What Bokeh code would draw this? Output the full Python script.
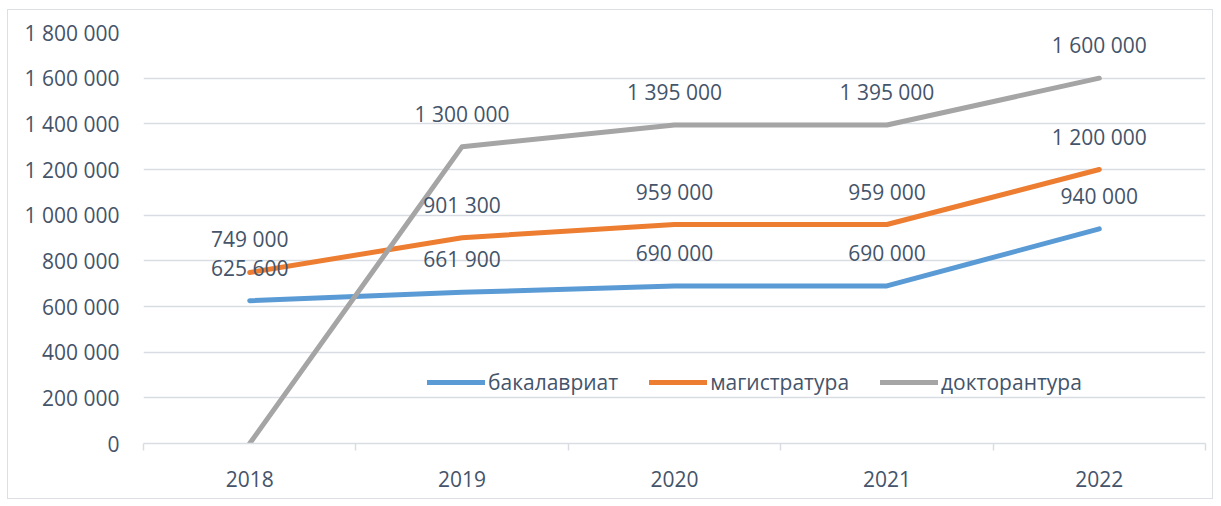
from bokeh.plotting import figure
from bokeh.models import ColumnDataSource, FixedTicker, Range1d, Legend, LegendItem
from bokeh.core.properties import value
from bokeh.embed import file_html
from bokeh.resources import INLINE

years = ["2018", "2019", "2020", "2021", "2022"]
bachelor = [625600, 661900, 690000, 690000, 940000]
master = [749000, 901300, 959000, 959000, 1200000]
doctor = [0, 1300000, 1395000, 1395000, 1600000]
series_names = ["бакалавриат", "магистратура", "докторантура"]
colors = ["#5B9BD5", "#ED7D31", "#A5A5A5"]
y_ticks = list(range(0, 1800001, 200000))

FONT = "Open Sans"
TXT = "#44546A"
GRID = "#D9DDE3"
FS = "21px"

def fmt(v):
    return f"{v:,}".replace(",", " ")

xs = list(range(1, len(years) + 1))

p = figure(width=1206, height=490, output_backend="svg", toolbar_location=None,
           x_range=Range1d(0.5, len(years) + 0.5), y_range=Range1d(0, 1800000),
           min_border_left=135, min_border_right=9, min_border_top=22, min_border_bottom=57)
p.styles = {"border": "1px solid #DCDFE4", "margin": "9px 0 0 7px"}
p.outline_line_color = None
p.background_fill_color = "white"
p.border_fill_color = "white"

# axes
p.xaxis.ticker = FixedTicker(ticks=xs, minor_ticks=[x + 0.5 for x in range(0, len(years) + 1)])
p.xaxis.major_label_overrides = {x: y for x, y in zip(xs, years)}
p.xaxis.major_tick_out = 0
p.xaxis.major_tick_in = 0
p.xaxis.minor_tick_out = 7
p.xaxis.minor_tick_in = 0
p.xaxis.minor_tick_line_color = GRID
p.xaxis.minor_tick_line_width = 1.5
p.xaxis.axis_line_color = GRID
p.xaxis.axis_line_width = 1.5
p.xaxis.major_label_standoff = 20
p.xaxis.major_label_text_font = FONT
p.xaxis.major_label_text_font_size = FS
p.xaxis.major_label_text_color = TXT

p.yaxis.ticker = FixedTicker(ticks=y_ticks)
p.yaxis.major_label_overrides = {t: fmt(t) for t in y_ticks}
p.yaxis.axis_line_color = None
p.yaxis.major_tick_line_color = None
p.yaxis.minor_tick_line_color = None
p.yaxis.major_label_standoff = 18
p.yaxis.major_label_text_font = FONT
p.yaxis.major_label_text_font_size = FS
p.yaxis.major_label_text_color = TXT

p.xgrid.grid_line_color = None
p.ygrid.grid_line_color = GRID
p.ygrid.grid_line_width = 1.5

# lines
renderers = []
for name, vals, col in zip(series_names, [bachelor, master, doctor], colors):
    src = ColumnDataSource(dict(x=xs, y=vals))
    r = p.line("x", "y", source=src, line_color=col, line_width=5, line_cap="round", line_join="round")
    renderers.append(r)

# data labels (zero value hidden, as in the reference)
for vals in [bachelor, master, doctor]:
    lx = [x for x, v in zip(xs, vals) if v != 0]
    ly = [v for v in vals if v != 0]
    lt = [fmt(v) for v in vals if v != 0]
    src = ColumnDataSource(dict(x=lx, y=ly, t=lt))
    p.text("x", "y", text="t", source=src, text_font=value(FONT), text_font_size=FS,
           text_color=TXT, text_align="center", text_baseline="middle", y_offset=-33)

legend = Legend(items=[LegendItem(label=n, renderers=[r]) for n, r in zip(series_names, renderers)],
                orientation="horizontal", location=(284, 47),
                glyph_width=58, glyph_height=20, label_standoff=3, spacing=31,
                padding=0, margin=0, border_line_color=None, background_fill_alpha=0,
                label_text_font=FONT, label_text_font_size=FS, label_text_color=TXT)
p.add_layout(legend, "center")

open("out.html", "w").write(file_html(p, INLINE))
